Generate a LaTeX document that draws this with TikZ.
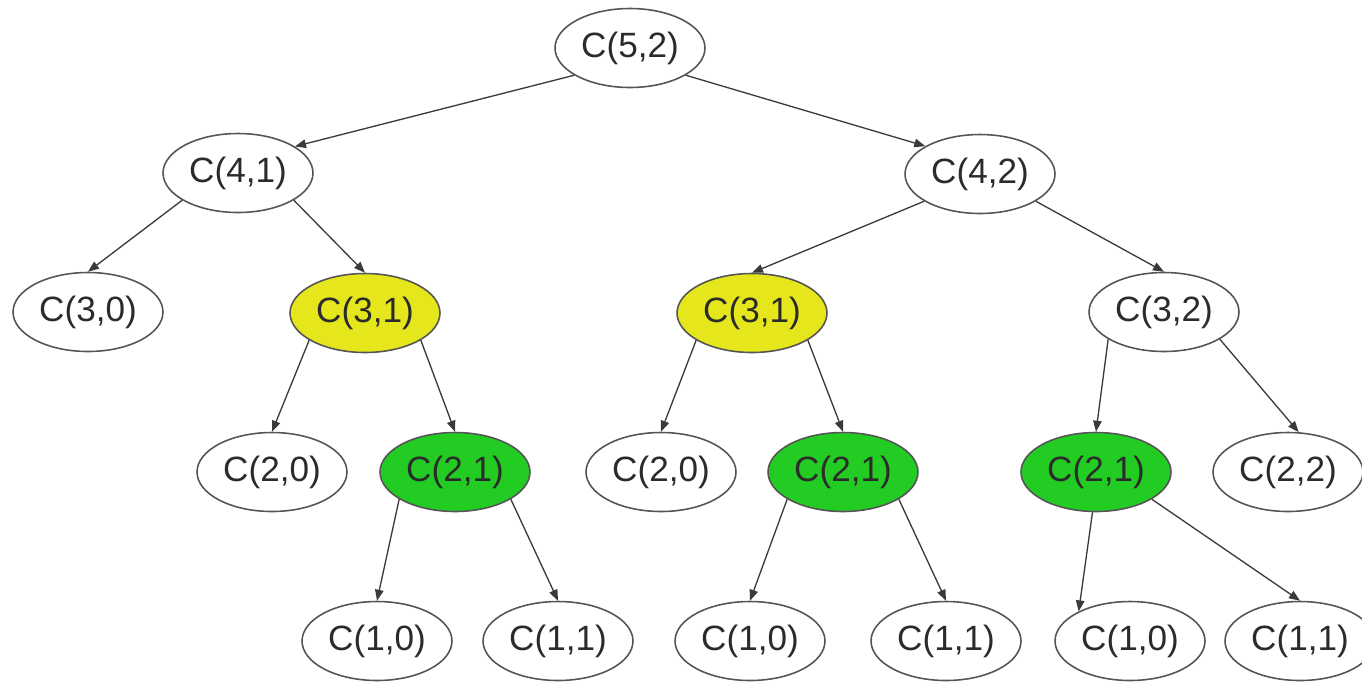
\documentclass[tikz,border=0pt]{standalone}
\usepackage{fontspec}
\setmainfont{Liberation Sans}
\usetikzlibrary{positioning,arrows.meta,shapes.geometric}
\usepackage{xcolor}
\definecolor{gris}{HTML}{555555}
\definecolor{linea}{HTML}{3A3A3A}
\definecolor{amarillo}{HTML}{E6E61C}
\definecolor{verde}{HTML}{22CC22}
\definecolor{texto}{HTML}{2B2B2B}

\begin{document}
\begin{tikzpicture}[x=0.02cm, y=-0.02cm, font=\fontsize{20}{24}\selectfont,
      c/.style={draw=gris, ellipse, minimum width=3cm, minimum height=1.58cm,
                inner sep=0pt, line width=0.9pt, text=texto},
      ca/.style={c, fill=amarillo},
      cv/.style={c, fill=verde},
      f/.style={-{Triangle[length=2.2mm, width=1.7mm]}, draw=linea, line width=0.75pt}]
    \useasboundingbox (0,0) rectangle (1362,684);

    % raiz
    \node[c] (c52) at (630,48) {C(5,2)};
    % nivel 1
    \node[c] (c41) at (238,173) {C(4,1)};
    \node[c] (c42) at (980,174) {C(4,2)};
    % nivel 2
    \node[c]  (c30)  at (88,312)   {C(3,0)};
    \node[ca] (c31a) at (365,313)  {C(3,1)};
    \node[ca] (c31b) at (752,313)  {C(3,1)};
    \node[c]  (c32)  at (1164,312) {C(3,2)};
    % nivel 3
    \node[c]  (c20a) at (272,472)  {C(2,0)};
    \node[cv] (c21a) at (455,472)  {C(2,1)};
    \node[c]  (c20b) at (661,472)  {C(2,0)};
    \node[cv] (c21b) at (843,472)  {C(2,1)};
    \node[cv] (c21c) at (1096,472) {C(2,1)};
    \node[c]  (c22)  at (1288,472) {C(2,2)};
    % nivel 4
    \node[c] (c10a) at (377,641)  {C(1,0)};
    \node[c] (c11a) at (558,641)  {C(1,1)};
    \node[c] (c10b) at (750,641)  {C(1,0)};
    \node[c] (c11b) at (946,641)  {C(1,1)};
    \node[c] (c10c) at (1130,641) {C(1,0)};
    \node[c] (c11c) at (1300,641) {C(1,1)};

    \draw[f] (c52.206) -- (c41.25);
    \draw[f] (c52.334) -- (c42.153);
    \draw[f] (c41.206) -- (c30.north);
    \draw[f] (c41.334) -- (c31a.north);
    \draw[f] (c42.206) -- (c31b.north);
    \draw[f] (c42.334) -- (c32.north);
    \draw[f] (c31a.206) -- (c20a.north);
    \draw[f] (c31a.334) -- (c21a.north);
    \draw[f] (c31b.206) -- (c20b.north);
    \draw[f] (c31b.334) -- (c21b.north);
    \draw[f] (c32.206) -- (c21c.north);
    \draw[f] (c32.334) -- (c22.75);
    \draw[f] (c21a.206) -- (c10a.north);
    \draw[f] (c21a.334) -- (c11a.north);
    \draw[f] (c21b.206) -- (c10b.north);
    \draw[f] (c21b.334) -- (c11b.north);
    \draw[f] (c21c.265) -- (c10c.150);
    \draw[f] (c21c.334) -- (c11c.north);
  \end{tikzpicture}
\end{document}
